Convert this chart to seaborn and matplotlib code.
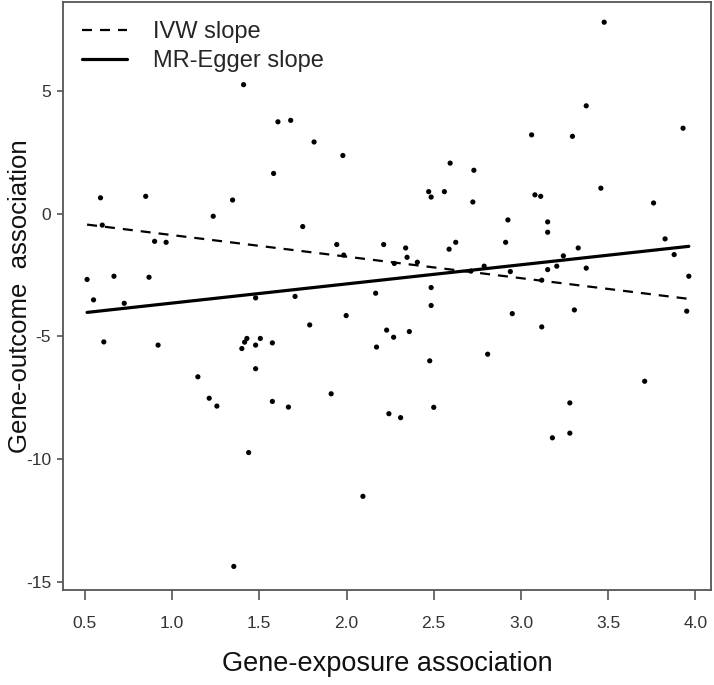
import matplotlib
matplotlib.use("Agg")
import matplotlib.pyplot as plt
import seaborn as sns
import numpy as np
import pandas as pd

# gene-exposure (x) and gene-outcome (y) associations
gx = [1.41, 1.607, 1.68, 1.814, 1.979, 1.582, 0.59, 0.849, 1.347, 2.594,
      2.73, 2.471, 2.485, 2.561, 3.477, 3.374, 3.929, 3.061, 3.295, 3.458,
      3.08, 3.113, 1.236, 0.60, 0.90, 0.966, 0.513, 0.667, 0.868, 0.55,
      0.726, 1.479, 0.609, 0.92, 1.40, 1.416, 1.429, 1.479, 1.506, 1.575,
      1.479, 1.148, 2.724, 1.749, 1.944, 2.213, 2.339, 2.347, 2.406, 2.626,
      2.588, 1.984, 2.274, 2.789, 2.713, 2.485, 2.485, 1.705, 2.167, 1.998,
      1.789, 2.23, 2.27, 2.36, 2.172, 2.477, 2.809, 3.76, 2.925, 3.153,
      3.153, 2.912, 3.826, 3.878, 3.328, 3.243, 3.205, 3.153, 3.374, 2.939,
      3.119, 3.962, 3.95, 2.95, 3.306, 3.119, 3.709, 1.213, 1.257, 1.575,
      1.667, 1.912, 2.243, 1.439, 2.094, 1.354, 2.31, 2.50, 3.18, 3.28,
      3.28]
gy = [5.24, 3.73, 3.79, 2.91, 2.36, 1.63, 0.64, 0.70, 0.55, 2.05,
      1.76, 0.89, 0.67, 0.89, 7.78, 4.38, 3.47, 3.20, 3.14, 1.03,
      0.76, 0.70, -0.11, -0.47, -1.13, -1.17, -2.68, -2.55, -2.59, -3.51,
      -3.65, -3.43, -5.22, -5.35, -5.49, -5.23, -5.08, -5.35, -5.08, -5.26,
      -6.31, -6.64, 0.47, -0.53, -1.26, -1.26, -1.40, -1.78, -1.98, -1.17,
      -1.45, -1.69, -2.03, -2.14, -2.34, -3.01, -3.74, -3.37, -3.24, -4.15,
      -4.53, -4.74, -5.03, -4.80, -5.43, -5.99, -5.72, 0.43, -0.26, -0.34,
      -0.76, -1.17, -1.03, -1.67, -1.40, -1.72, -2.14, -2.28, -2.22, -2.36,
      -2.71, -2.55, -3.97, -4.07, -3.92, -4.61, -6.82, -7.51, -7.83, -7.64,
      -7.87, -7.33, -8.14, -9.72, -11.50, -14.35, -8.30, -7.88, -9.12, -8.93,
      -7.70]

# fitted slopes
ivw_slope = -0.876
egger_slope = 0.779
egger_intercept = -4.42

df = pd.DataFrame({"x": gx, "y": gy})
xs = np.array([df["x"].min(), df["x"].max()])
fits = pd.DataFrame({
    "x": np.concatenate([xs, xs]),
    "y": np.concatenate([ivw_slope * xs, egger_intercept + egger_slope * xs]),
    "fit": ["IVW slope"] * 2 + ["MR-Egger slope"] * 2,
})

sns.set_style("white")
plt.rcParams["font.family"] = ["Liberation Sans", "DejaVu Sans"]

fig = plt.figure(figsize=(7.14, 6.85), dpi=100)
ax = fig.add_axes([0.088, 0.139, 0.908, 0.858])

sns.scatterplot(data=df, x="x", y="y", s=14, color="black",
                edgecolor="none", ax=ax, zorder=3)
sns.lineplot(data=fits, x="x", y="y", style="fit",
             dashes={"IVW slope": (4.5, 3.6), "MR-Egger slope": ""},
             size="fit", sizes={"IVW slope": 1.6, "MR-Egger slope": 2.3},
             color="black", ax=ax, legend=True)

handles, labels = ax.get_legend_handles_labels()
keep = [(h, l) for h, l in zip(handles, labels) if l in ("IVW slope", "MR-Egger slope")]
ax.legend([h for h, _ in keep[:2]], [l for _, l in keep[:2]],
          loc="upper left", bbox_to_anchor=(0.0, 1.0), frameon=False,
          fontsize=17, handlelength=1.9, handletextpad=1.1,
          labelspacing=0.3, borderaxespad=0.4, borderpad=0.4)

ax.set_xlim(0.374, 4.09)
ax.set_ylim(-15.3, 8.6)
ax.set_xticks([0.5, 1.0, 1.5, 2.0, 2.5, 3.0, 3.5, 4.0])
ax.set_xticklabels(["0.5", "1.0", "1.5", "2.0", "2.5", "3.0", "3.5", "4.0"])
ax.set_yticks([5, 0, -5, -10, -15])
ax.set_yticklabels(["5", "0", "-5", "-10", "-15"])

for sp in ax.spines.values():
    sp.set_color("#555555")
    sp.set_linewidth(1.3)
ax.tick_params(axis="x", direction="out", length=7, width=1.2,
               colors="#555555", labelcolor="#333333", labelsize=12.5, pad=12,
               bottom=True)
ax.tick_params(axis="y", direction="out", length=4.5, width=1.2,
               colors="#555555", labelcolor="#333333", labelsize=12.5, pad=4,
               left=True)

ax.set_xlabel("Gene-exposure association", fontsize=19.5, labelpad=14, color="#111111")
ax.set_ylabel("Gene-outcome  association", fontsize=18.5, color="#111111")
ax.yaxis.set_label_coords(-0.047, 0.5)

fig.savefig("out.png", dpi=100)
